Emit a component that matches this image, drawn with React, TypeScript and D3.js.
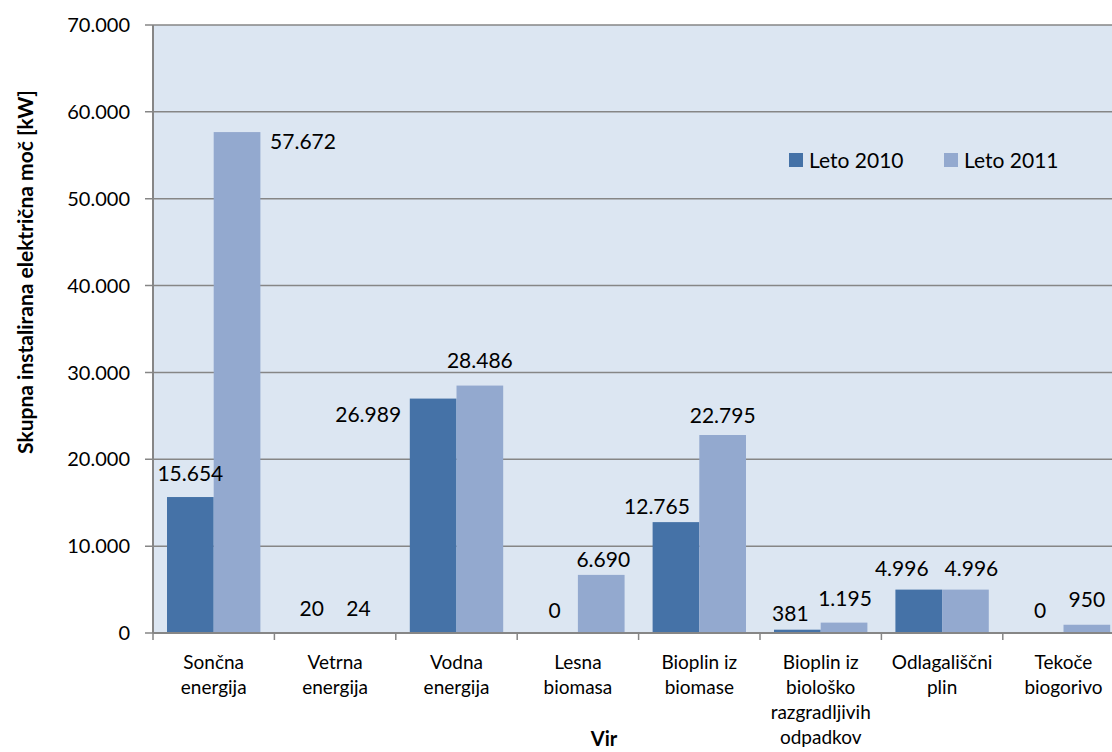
import React from "react";
import * as d3 from "d3";

const categories: string[][] = [
  ["Sončna", "energija"],
  ["Vetrna", "energija"],
  ["Vodna", "energija"],
  ["Lesna", "biomasa"],
  ["Bioplin iz", "biomase"],
  ["Bioplin iz", "biološko", "razgradljivih", "odpadkov"],
  ["Odlagališčni", "plin"],
  ["Tekoče", "biogorivo"],
];
const series2010 = [15654, 20, 26989, 0, 12765, 381, 4996, 0];
const series2011 = [57672, 24, 28486, 6690, 22795, 1195, 4996, 950];
const seriesNames = ["Leto 2010", "Leto 2011"];
const yTicks = [0, 10000, 20000, 30000, 40000, 50000, 60000, 70000];

// label offsets (dx, dy) relative to bar center-top
const off2010: [number, number][] = [
  [0, -24], [0, -24], [-65, 16], [0, -23], [-19, -16], [-7, -16], [-17, -21], [0, -23],
];
const off2011: [number, number][] = [
  [66, 9], [0, -24], [0, -25], [2, -15], [0, -20], [1, -24], [6, -21], [0, -25],
];

const fmt = (v: number) => {
  const s = String(Math.round(v));
  return s.replace(/\B(?=(\d{3})+(?!\d))/g, ".");
};

export default function App() {
  const W = 1112, H = 752;
  const left = 153, top = 25, bottom = 633;
  const catW = 121.4;
  const right = left + catW * categories.length;
  const font = "Lato, 'Open Sans', sans-serif";

  const y = d3.scaleLinear().domain([0, 70000]).range([bottom, top]);
  const x0 = d3.scaleBand<number>().domain(d3.range(categories.length)).range([left, right]).paddingInner(0.2308).paddingOuter(0.1154);
  const x1 = d3.scaleBand<number>().domain([0, 1]).range([0, x0.bandwidth()]);
  const colors = ["#4572A7", "#93A9CF"];
  const all = [series2010, series2011];
  const offs = [off2010, off2011];

  return (
    <svg width={W} height={H} style={{ position: "absolute", left: 0, top: 0, background: "#fff" }} fontFamily={font}>
      <rect x={left} y={top} width={right - left} height={bottom - top} fill="#DCE6F2" />
      {yTicks.map((t) => (
        <g key={t}>
          <line x1={left - 8} x2={right} y1={y(t)} y2={y(t)} stroke="#868686" strokeWidth={1.5} />
          <text x={130} y={y(t)} dy="0.36em" textAnchor="end" fontSize={20} fill="#000">{fmt(t)}</text>
        </g>
      ))}
      {all.map((s, si) =>
        s.map((v, i) => {
          const bx = (x0(i) as number) + (x1(si) as number);
          return (
            <rect key={`${si}-${i}`} x={bx} y={y(v)} width={x1.bandwidth()} height={bottom - y(v)} fill={colors[si]} />
          );
        })
      )}
      <line x1={left} x2={left} y1={top} y2={bottom} stroke="#868686" strokeWidth={2} />
      <line x1={left} x2={right} y1={bottom} y2={bottom} stroke="#868686" strokeWidth={2} />
      {d3.range(categories.length + 1).map((i) => (
        <line key={i} x1={left + i * catW} x2={left + i * catW} y1={bottom} y2={bottom + 7} stroke="#868686" strokeWidth={1.5} />
      ))}
      {all.map((s, si) =>
        s.map((v, i) => {
          const cx = (x0(i) as number) + (x1(si) as number) + x1.bandwidth() / 2;
          const [dx, dy] = offs[si][i];
          return (
            <text key={`l${si}-${i}`} x={cx + dx} y={y(v) + dy} dy="0.36em" textAnchor="middle" fontSize={21} fill="#000">{fmt(v)}</text>
          );
        })
      )}
      {categories.map((lines, i) => (
        <text key={i} x={(x0(i) as number) + x0.bandwidth() / 2} y={669} textAnchor="middle" fontSize={19} fill="#000">
          {lines.map((l, j) => (
            <tspan key={j} x={(x0(i) as number) + x0.bandwidth() / 2} dy={j === 0 ? 0 : 25}>{l}</tspan>
          ))}
        </text>
      ))}
      <text x={604} y={746} textAnchor="middle" fontSize={20} fontWeight="bold">Vir</text>
      <text transform={`translate(33, 272) rotate(-90)`} textAnchor="middle" fontSize={21} fontWeight="bold">Skupna instalirana električna moč [kW]</text>
      {seriesNames.map((n, i) => (
        <g key={n} transform={`translate(${789 + i * 155}, 153)`}>
          <rect x={0} y={0} width={14} height={14} fill={colors[i]} />
          <text x={20} y={7} dy="0.36em" fontSize={21}>{n}</text>
        </g>
      ))}
    </svg>
  );
}
